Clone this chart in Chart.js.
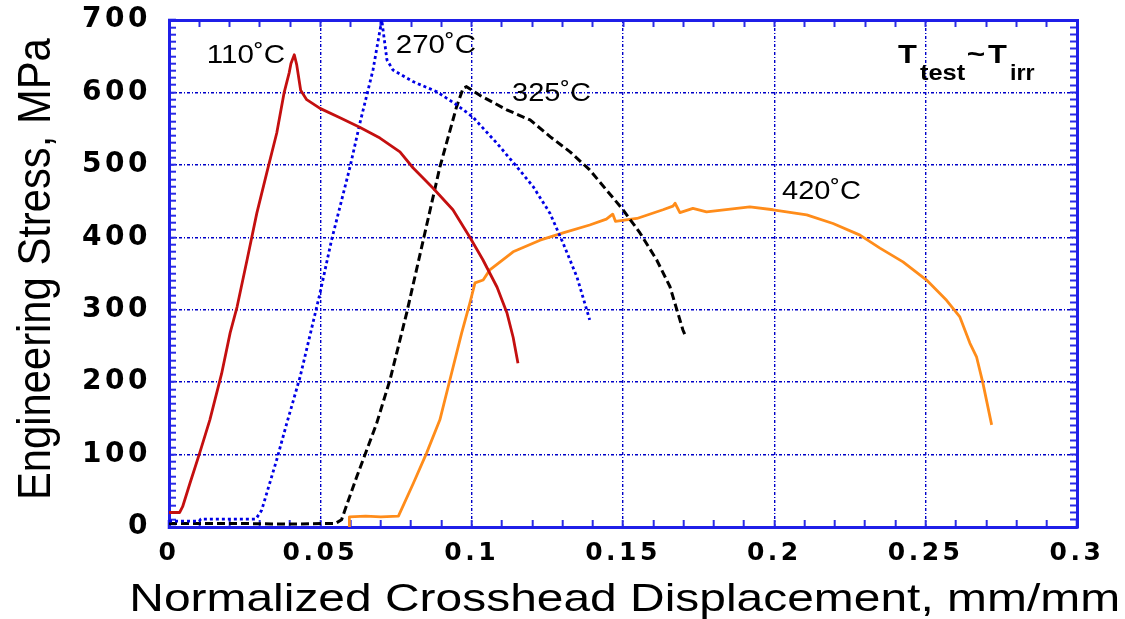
<!DOCTYPE html>
<html>
<head>
<meta charset="utf-8">
<script src="https://cdn.jsdelivr.net/npm/chart.js@4"></script>
<style>
html,body{margin:0;padding:0;background:#fff;overflow:hidden}
#wrap{width:1125px;height:619px;position:relative}
canvas{display:block}
</style>
</head>
<body>
<div id="wrap"><canvas id="c" width="1125" height="619"></canvas></div>
<script>
// ---------- data ----------
const xTickValues = [0, 0.05, 0.1, 0.15, 0.2, 0.25, 0.3];
const xTickLabels = ['0', '0.05', '0.1', '0.15', '0.2', '0.25', '0.3'];
const yTickValues = [0, 100, 200, 300, 400, 500, 600, 700];
const yTickLabels = ['0', '100', '200', '300', '400', '500', '600', '700'];
const seriesNames = ['110˚C', '270˚C', '325˚C', '420˚C'];

const disp110 = [0, 0.0035, 0.0045, 0.0069, 0.0102, 0.0135, 0.0174, 0.0202, 0.0225, 0.0258, 0.029, 0.0323, 0.0356, 0.038, 0.0397, 0.0403, 0.0414, 0.0422, 0.0435, 0.0455, 0.0499, 0.0565, 0.063, 0.0697, 0.0763, 0.0806, 0.0872, 0.0938, 0.0994, 0.1037, 0.1084, 0.1117, 0.1137, 0.1153];
const stress110 = [20, 20, 28, 60, 103, 148, 212, 268, 304, 369, 433, 489, 544, 599, 627, 640, 652, 638, 603, 590, 578, 565, 552, 537, 518, 496, 468, 438, 400, 369, 331, 295, 262, 226];

const disp270 = [0, 0.01, 0.0105, 0.0287, 0.0306, 0.0356, 0.0389, 0.0433, 0.0499, 0.0537, 0.0598, 0.0631, 0.0674, 0.0703, 0.072, 0.074, 0.0806, 0.0885, 0.095, 0.1004, 0.1083, 0.115, 0.1203, 0.1259, 0.1302, 0.1348, 0.139];
const stress270 = [8, 8, 11, 11, 23, 93, 143, 207, 323, 396, 497, 558, 631, 700, 645, 631, 615, 601, 583, 566, 530, 497, 470, 433, 392, 345, 286];

const disp325 = [0, 0.02, 0.04, 0.055, 0.057, 0.062, 0.0686, 0.073, 0.0785, 0.084, 0.0895, 0.095, 0.0972, 0.0983, 0.1027, 0.1116, 0.1193, 0.1259, 0.1325, 0.139, 0.1446, 0.15, 0.1556, 0.1611, 0.1655, 0.1698, 0.1708];
const stress325 = [5, 5, 4, 5, 10, 69, 143, 203, 295, 396, 497, 580, 606, 608, 596, 576, 562, 539, 518, 493, 465, 438, 406, 369, 332, 272, 262];

const disp420 = [0.0596, 0.0596, 0.065, 0.07, 0.0758, 0.0807, 0.0851, 0.0895, 0.0928, 0.0967, 0.0994, 0.1011, 0.1038, 0.106, 0.1137, 0.1226, 0.1302, 0.139, 0.1445, 0.1466, 0.1475, 0.1546, 0.1632, 0.1665, 0.1672, 0.1688, 0.1731, 0.1776, 0.1919, 0.1996, 0.2107, 0.2194, 0.2283, 0.2349, 0.2425, 0.2503, 0.2569, 0.2613, 0.2646, 0.2668, 0.2689, 0.2718];
const stress420 = [0, 14, 15, 14, 15, 60, 102, 148, 203, 268, 309, 337, 341, 355, 380, 396, 406, 417, 425, 432, 422, 426, 438, 443, 447, 434, 440, 435, 442, 438, 431, 419, 403, 385, 366, 341, 313, 290, 254, 235, 199, 141];

// ---------- helpers ----------
const toPts = (xs, ys) => xs.map((x, i) => ({x: x, y: ys[i]}));
const near = (a, b) => Math.abs(a - b) < 1e-7;
const xMajorIdx = v => xTickValues.findIndex(t => near(t, v));
const yMajorIdx = v => yTickValues.findIndex(t => near(t, v));

const FRAME = '#1f1fe8';
const GRID = '#0000c8';
const TICKC = '#2a2ae6';

const xMinorTicks = () => { const a = []; for (let i = 0; i <= 30; i++) a.push({value: i / 100}); return a; };
const yMinorTicks = () => { const a = []; for (let i = 0; i <= 70; i++) a.push({value: i * 10}); return a; };

const tickFontX = {family: 'DejaVu Sans', weight: 'bold', size: 25};
const tickFontY = {family: 'DejaVu Sans', weight: 'bold', size: 28};

const zeroPad = s => { s.paddingTop = 0; s.paddingBottom = 0; s.paddingLeft = 0; s.paddingRight = 0; };

function drawFitted(ctx, str, font, left, right, baseline) {
  ctx.save();
  ctx.letterSpacing = '0px';
  ctx.font = font;
  ctx.textAlign = 'left';
  ctx.textBaseline = 'alphabetic';
  ctx.fillStyle = '#000';
  const m = ctx.measureText(str);
  const ink = m.actualBoundingBoxRight + m.actualBoundingBoxLeft;
  const sx = (right - left) / ink;
  ctx.translate(left, baseline);
  ctx.scale(sx, 1);
  ctx.fillText(str, m.actualBoundingBoxLeft, 0);
  ctx.restore();
}

const textPlugin = {
  id: 'texts',
  afterDatasetsDraw(chart) { chart.ctx.letterSpacing = '3.5px'; },
  afterDraw(chart) {
    const ctx = chart.ctx;
    ctx.letterSpacing = '0px';
    // curve annotations
    drawFitted(ctx, seriesNames[0], '25px "Liberation Sans", Arial', 208, 285, 63);
    drawFitted(ctx, seriesNames[1], '25px "Liberation Sans", Arial', 397, 476, 53);
    drawFitted(ctx, seriesNames[2], '25px "Liberation Sans", Arial', 512, 591, 101);
    drawFitted(ctx, seriesNames[3], '25px "Liberation Sans", Arial', 782, 861, 199);
    // T_test ~ T_irr
    drawFitted(ctx, 'T', 'bold 26px "Liberation Sans", Arial', 898, 917, 63);
    drawFitted(ctx, 'test', 'bold 22px "Liberation Sans", Arial', 920, 966, 80);
    drawFitted(ctx, '~', 'bold 26px "Liberation Sans", Arial', 968, 985, 63);
    drawFitted(ctx, 'T', 'bold 26px "Liberation Sans", Arial', 988, 1007, 63);
    drawFitted(ctx, 'irr', 'bold 22px "Liberation Sans", Arial', 1011, 1035, 80);
    // x axis title
    drawFitted(ctx, 'Normalized Crosshead Displacement, mm/mm', '39px "Liberation Sans", Arial', 133, 1117, 611);
    // y axis title (rotated)
    ctx.save();
    ctx.font = '41px "Liberation Sans", Arial';
    ctx.fillStyle = '#000';
    ctx.textAlign = 'left';
    ctx.textBaseline = 'alphabetic';
    const s = 'Engineering Stress, MPa';
    const m = ctx.measureText(s);
    const ink = m.actualBoundingBoxRight + m.actualBoundingBoxLeft;
    const sx = (497 - 38) / ink;
    ctx.translate(50, 497);
    ctx.rotate(-Math.PI / 2);
    ctx.scale(sx, 1.12);
    ctx.fillText(s, m.actualBoundingBoxLeft, 0);
    ctx.restore();
  }
};

const lineDs = (label, pts, color, width, dash) => ({
  label: label,
  data: pts,
  showLine: true,
  borderColor: color,
  backgroundColor: color,
  borderWidth: width,
  borderDash: dash,
  borderJoinStyle: 'round',
  pointRadius: 0,
  pointHoverRadius: 0,
  fill: false,
  tension: 0
});

const minorGrid = (major) => ({
  drawOnChartArea: true, drawTicks: true, tickLength: -7,
  color: c => (c.tick && major(c.tick.value) >= 0) ? GRID : 'rgba(0,0,0,0)',
  lineWidth: 1.4, tickColor: TICKC, tickWidth: 2, tickBorderDash: []
});
const edgeGrid = {drawOnChartArea: false, drawTicks: true, tickLength: -7, tickColor: TICKC, tickWidth: 2, tickBorderDash: []};

new Chart(document.getElementById('c'), {
  type: 'scatter',
  data: {
    datasets: [
      lineDs(seriesNames[0], toPts(disp110, stress110), '#c40f0f', 2.8, []),
      lineDs(seriesNames[1], toPts(disp270, stress270), '#0000e6', 2.8, [3, 3]),
      lineDs(seriesNames[2], toPts(disp325, stress325), '#000000', 3, [8, 4]),
      lineDs(seriesNames[3], toPts(disp420, stress420), '#ff8c1a', 2.8, [])
    ]
  },
  options: {
    responsive: false,
    animation: false,
    events: [],
    layout: {padding: {left: 0, top: 20, right: 48, bottom: 0}},
    plugins: {legend: {display: false}, tooltip: {enabled: false}, title: {display: false}},
    scales: {
      x: {
        type: 'linear', position: 'bottom', min: 0, max: 0.3,
        afterBuildTicks: s => { s.ticks = xMinorTicks(); },
        afterFit: s => { s.height = 92; zeroPad(s); },
        ticks: {
          autoSkip: false, maxRotation: 0, minRotation: 0, padding: 18.5, z: 1,
          color: '#000', font: tickFontX,
          callback: v => { const k = xMajorIdx(v); return k >= 0 ? xTickLabels[k] : ''; }
        },
        grid: minorGrid(xMajorIdx),
        border: {display: true, color: FRAME, width: 3, dash: [3, 2, 1, 2]}
      },
      x2: {
        type: 'linear', position: 'top', min: 0, max: 0.3, display: true,
        afterBuildTicks: s => { s.ticks = xMinorTicks(); },
        afterFit: s => { s.height = 0; zeroPad(s); },
        ticks: {display: false, autoSkip: false},
        grid: edgeGrid,
        border: {display: true, color: FRAME, width: 3}
      },
      y: {
        type: 'linear', position: 'left', min: 0, max: 700,
        afterBuildTicks: s => { s.ticks = yMinorTicks(); },
        afterFit: s => { s.width = 169; zeroPad(s); },
        ticks: {
          autoSkip: false, padding: 25, z: 1,
          color: '#000', font: tickFontY,
          callback: v => { const k = yMajorIdx(v); return k >= 0 ? yTickLabels[k] : ''; }
        },
        grid: minorGrid(yMajorIdx),
        border: {display: true, color: FRAME, width: 3, dash: [3, 2, 1, 2]}
      },
      y2: {
        type: 'linear', position: 'right', min: 0, max: 700, display: true,
        afterBuildTicks: s => { s.ticks = yMinorTicks(); },
        afterFit: s => { s.width = 0; zeroPad(s); },
        ticks: {display: false, autoSkip: false},
        grid: edgeGrid,
        border: {display: true, color: FRAME, width: 3}
      }
    }
  },
  plugins: [textPlugin]
});
</script>
</body>
</html>
